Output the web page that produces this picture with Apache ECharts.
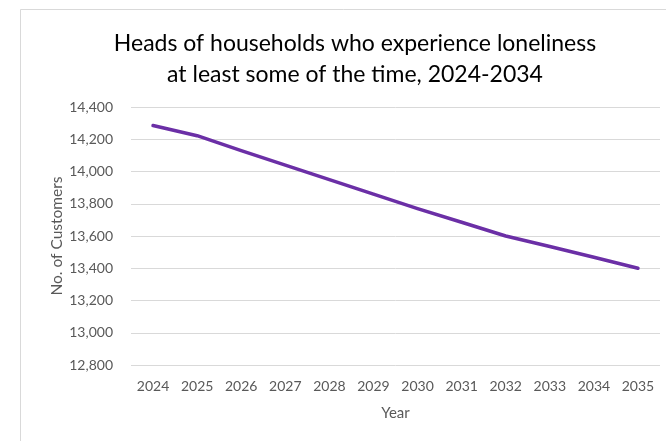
<!DOCTYPE html>
<html>
<head>
<meta charset="utf-8">
<script src="https://cdn.jsdelivr.net/npm/echarts@6/dist/echarts.min.js"></script>
<style>
  html, body { margin: 0; padding: 0; background: #fff; }
  #chart { width: 666px; height: 441px; }
</style>
</head>
<body>
<div id="chart"></div>
<script>
// Projected heads of households experiencing loneliness, by year
const years = ['2024', '2025', '2026', '2027', '2028', '2029', '2030', '2031', '2032', '2033', '2034', '2035'];
const customers = [14285, 14222, 14130, 14040, 13950, 13860, 13770, 13685, 13600, 13535, 13468, 13400];

const FONT = 'Lato, "Liberation Sans", sans-serif';
const TEXT_GREY = '#595959';

const chart = echarts.init(document.getElementById('chart'), null, { renderer: 'canvas' });

chart.setOption({
  animation: false,
  backgroundColor: '#ffffff',
  title: {
    text: 'Heads of households who experience loneliness\nat least some of the time, 2024-2034',
    left: 350,
    textAlign: 'center',
    top: 23,
    textStyle: {
      fontFamily: FONT,
      fontSize: 23,
      fontWeight: 'normal',
      color: '#000000',
      lineHeight: 31
    }
  },
  graphic: [{
    type: 'rect',
    silent: true,
    shape: { x: 20.5, y: 9.5, width: 800, height: 600 },
    style: { fill: 'none', stroke: '#d9d9d9', lineWidth: 1 }
  }],
  grid: { left: 131, right: 6, top: 107, bottom: 76 },
  xAxis: {
    type: 'category',
    data: years,
    boundaryGap: true,
    name: 'Year',
    nameLocation: 'middle',
    nameGap: 41,
    nameMoveOverlap: false,
    nameTextStyle: { fontFamily: FONT, fontSize: 15, color: TEXT_GREY },
    axisLine: { show: false },
    axisTick: { show: false },
    axisLabel: { fontFamily: FONT, fontSize: 14, color: TEXT_GREY, margin: 14 }
  },
  yAxis: {
    type: 'value',
    min: 12800,
    max: 14400,
    interval: 200,
    name: 'No. of Customers',
    nameLocation: 'middle',
    nameGap: 66,
    nameMoveOverlap: false,
    nameTextStyle: { fontFamily: FONT, fontSize: 15.5, color: TEXT_GREY },
    axisLine: { show: false },
    axisTick: { show: false },
    axisLabel: {
      fontFamily: FONT,
      fontSize: 14,
      color: TEXT_GREY,
      margin: 18,
      formatter: v => v.toLocaleString('en-US')
    },
    splitLine: { lineStyle: { color: '#d9d9d9', width: 1 } }
  },
  series: [{
    type: 'line',
    data: customers,
    showSymbol: false,
    symbol: 'none',
    lineStyle: { color: '#6b2fa6', width: 3.5, cap: 'round', join: 'round' }
  }]
});
</script>
</body>
</html>
